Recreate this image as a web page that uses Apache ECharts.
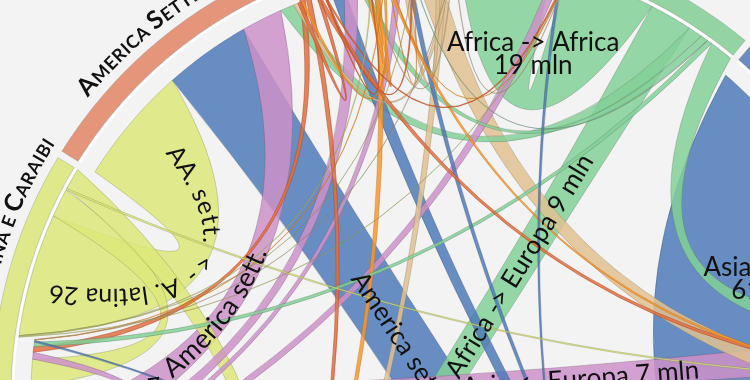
<!DOCTYPE html>
<html>
<head>
<meta charset="utf-8">
<title>Migrazioni internazionali</title>
<script src="https://cdn.jsdelivr.net/npm/echarts@6.0.0/dist/echarts.min.js"></script>
<style>
html,body{margin:0;padding:0;background:#f3f3f3;}
#chart{width:750px;height:380px;}
</style>
</head>
<body>
<div id="chart"></div>
<script>
// ---------------- DATA (milioni di migranti) ----------------
const regions = ['America settentrionale', 'Oceania', 'Ex URSS', 'Africa', 'Asia', 'Europa', 'America latina e Caraibi'];
const codes   = ['AS', 'OC', 'TN', 'AF', 'AI', 'EU', 'AL'];
// flows from each origin, destinations in the order of `codes`
const fromAmericaSett = [0.8, 0.2, 0.3, 0.3, 0.9, 1.0, 1.2];
const fromOceania     = [0.5, 1.0, 0.1, 0.1, 0.6, 1.2, 0.1];
const fromExUrss      = [1.0, 0.2, 1.0, 0.1, 5.0, 1.5, 0.1];
const fromAfrica      = [3.0, 1.5, 0.1, 19, 5.0, 9, 1.0];
const fromAsia        = [19, 3.0, 1.0, 0.6, 61, 18.5, 0.4];
const fromEuropa      = [9, 3.0, 1.5, 2.0, 7, 60, 1.5];
const fromAmLatina    = [26, 0.2, 0.05, 0.1, 0.4, 4.5, 6];
const flowRows = [fromAmericaSett, fromOceania, fromExUrss, fromAfrica, fromAsia, fromEuropa, fromAmLatina];

// ribbon annotations (text shown on the ribbons)
const ribbonLabelTexts = [
  {s: 'AL', t: 'AS', text: 'AA. sett. <- A. latina 26'},
  {s: 'AF', t: 'EU', text: 'Africa -> Europa 9 mln'},
  {s: 'EU', t: 'AS', text: 'Europa -> America sett.'},
  {s: 'AI', t: 'AS', text: 'America sett. <- Asia 19 mln'},
  {s: 'EU', t: 'AI', text: 'Asia <- Europa 7 mln'}
];
const selfLabelTexts = [
  {r: 'AF', text: 'Africa -> Africa\n19 mln'},
  {r: 'AI', text: 'Asia -> Asia\n61 mln'}
];

// ---------------- LAYOUT / STYLE ----------------
const CX = 452, CY = 395, RMAX = 500;
const START_DEG = -58;          // compass angle where the first region starts
const GAP = 1.5;                // gap between regions (value units)
const RS = 437, RT = 421;       // source end radius, target end radius (inset)
const R_IN = 441, R_OUT = 460;  // outer ring
const RB = 469;                 // ring label baseline
const CTRL = 0.46;
const inOrder = {
  EU: ['EU','AI','TN','AL','OC','AS','AF'],
  AI: ['AI','AF','EU','AS','OC','AL','TN']
};
const outOrder = {
  AS: ['AL','EU','AI','AS','AF','TN','OC'],
  OC: ['OC','EU','AI','AS','AF','TN','AL'],
  TN: ['AI','TN','EU','AS','OC','AF','AL'],
  AF: ['AF','EU','AS','OC','TN','AL','AI'],
  AI: ['AI','EU','OC','TN','AL','AS','AF'],
  EU: ['EU','AF','TN','OC','AL','AS','AI'],
  AL: ['AF','OC','TN','AS','AL','AI','EU']
};
const labelShiftDeg = {AS: 3};
const ringColors   = {AS:'#e5967a', OC:'#f4a64c', TN:'#e4c9a1', AF:'#94d4a2', AI:'#6a8bc3', EU:'#d3a0cf', AL:'#dfe98b'};
const ribbonColors = {AS:'rgba(222,112,66,0.85)', OC:'rgba(245,152,48,0.85)', TN:'rgba(224,193,145,0.85)',
  AF:'rgba(131,208,150,0.85)', AI:'rgba(78,122,185,0.85)', EU:'rgba(204,146,200,0.85)', AL:'rgba(220,231,122,0.85)'};
const ribbonStroke = {AS:'rgba(190,80,40,0.9)', OC:'rgba(200,110,20,0.6)', TN:'rgba(120,110,90,0.45)',
  AF:'rgba(90,110,95,0.45)', AI:'rgba(60,70,100,0.45)', EU:'rgba(110,80,110,0.45)', AL:'rgba(120,125,70,0.45)'};
const ribbonLabelStyle = [
  {size: 25, dir: 'ts', at: 0.54, off: 16},
  {size: 26, dir: 'ts', at: 0.66, off: 0},
  {size: 27, dir: 'st', at: 0.33, off: 0},
  {size: 26, dir: 'ts', at: 0.50, off: 0},
  {size: 26, dir: 'st', at: 0.66, off: -2}
];
const selfLabelPos = [ {r: 350, deg: 13.4}, {r: 339, deg: 70} ];
const FONT = 'Lato';

// ---------------- COMPUTE LAYOUT ----------------
const n = codes.length;
const idx = {}; codes.forEach((c, i) => idx[c] = i);
const srcPos = codes.map(() => []), tgtPos = codes.map(() => []);
const regStart = [], regEnd = [];
let pos = 0;
for (let r = 0; r < n; r++) {
  regStart[r] = pos;
  let ins;
  if (inOrder[codes[r]]) ins = inOrder[codes[r]].map(c => idx[c]).filter(s => flowRows[s][r] > 0);
  else ins = codes.map((c, s) => s).filter(s => flowRows[s][r] > 0).sort((a, b) => flowRows[b][r] - flowRows[a][r]);
  ins.forEach(s => { tgtPos[s][r] = pos; pos += flowRows[s][r]; });
  outOrder[codes[r]].forEach(tc => { const t = idx[tc]; if (flowRows[r][t] > 0) { srcPos[r][t] = pos; pos += flowRows[r][t]; } });
  regEnd[r] = pos;
  pos += GAP;
}
const TOTAL = pos;
const degPer = 360 / TOTAL;
function v2deg(v) { return START_DEG + v * degPer; }
function deg2v(d) { let v = (d - START_DEG) / degPer; return ((v % TOTAL) + TOTAL) % TOTAL; }

const ribbons = [];
for (let s = 0; s < n; s++) for (let t = 0; t < n; t++) {
  const v = flowRows[s][t];
  if (v > 0) ribbons.push({s, t, v, s0: srcPos[s][t], s1: srcPos[s][t] + v, t0: tgtPos[s][t], t1: tgtPos[s][t] + v});
}
ribbons.sort((a, b) => b.v - a.v);

// ---------------- GEOMETRY HELPERS ----------------
const mctx = document.createElement('canvas').getContext('2d');
function tw(str, size, weight) { mctx.font = (weight || 'normal') + ' ' + size + 'px ' + FONT; return mctx.measureText(str).width; }
function arcPts(api, r, v0, v1) {
  const steps = Math.max(2, Math.ceil(Math.abs(v1 - v0) * degPer / 0.4));
  const out = [];
  for (let i = 0; i <= steps; i++) out.push(api.coord([r, v0 + (v1 - v0) * i / steps]));
  return out;
}
function ctrl(api, va, vb) {
  let diff = vb - va;
  if (diff > TOTAL / 2) diff -= TOTAL;
  if (diff < -TOTAL / 2) diff += TOTAL;
  const mid = (((va + diff / 2) % TOTAL) + TOTAL) % TOTAL;
  const dd = Math.abs(diff) * degPer;
  const rc = CTRL * RS * (1 - dd / 180);
  return api.coord([Math.max(rc, 0), mid]);
}
function f(p) { return p[0].toFixed(2) + ' ' + p[1].toFixed(2); }
function ribbonPath(api, rb) {
  const sp = arcPts(api, RS, rb.s0, rb.s1);
  const tp = arcPts(api, RT, rb.t0, rb.t1);
  let d = 'M' + f(sp[0]);
  for (let i = 1; i < sp.length; i++) d += 'L' + f(sp[i]);
  d += 'Q' + f(ctrl(api, rb.s1, rb.t0)) + ' ' + f(tp[0]);
  for (let i = 1; i < tp.length; i++) d += 'L' + f(tp[i]);
  d += 'Q' + f(ctrl(api, rb.t1, rb.s0)) + ' ' + f(sp[0]) + 'Z';
  return d;
}
function quad(p0, c, p2, N) {
  const pts = [];
  for (let i = 0; i <= N; i++) {
    const t = i / N, a = (1 - t) * (1 - t), b = 2 * t * (1 - t), e = t * t;
    pts.push([a * p0[0] + b * c[0] + e * p2[0], a * p0[1] + b * c[1] + e * p2[1]]);
  }
  return pts;
}
function pointAt(pts, cum, s) {
  let i = 0;
  while (i < pts.length - 2 && cum[i + 1] < s) i++;
  const seg = cum[i + 1] - cum[i] || 1;
  const u = (s - cum[i]) / seg;
  const dx = pts[i + 1][0] - pts[i][0], dy = pts[i + 1][1] - pts[i][1];
  const L = Math.hypot(dx, dy) || 1;
  return [pts[i][0] + dx * u, pts[i][1] + dy * u, dx / L, dy / L];
}
function textAlong(pts, text, size, at, off) {
  const cum = [0];
  for (let i = 1; i < pts.length; i++) cum.push(cum[i - 1] + Math.hypot(pts[i][0] - pts[i - 1][0], pts[i][1] - pts[i - 1][1]));
  const chars = Array.from(text);
  const ws = chars.map(ch => tw(ch, size));
  const total = ws.reduce((a, b) => a + b, 0);
  let s = at * cum[cum.length - 1] - total / 2;
  return chars.map((ch, i) => {
    const sc = s + ws[i] / 2; s += ws[i];
    const p = pointAt(pts, cum, sc);
    return {type: 'text', x: p[0] + p[3] * off, y: p[1] - p[2] * off, rotation: -Math.atan2(p[3], p[2]),
      style: {text: ch, fontSize: size, fontFamily: FONT, fill: '#111', align: 'center', verticalAlign: 'middle'}};
  });
}
function smallCaps(name) {
  const out = [];
  name.split(' ').forEach((w, wi) => {
    if (wi > 0) out.push({ch: ' ', size: 17});
    Array.from(w).forEach((ch, ci) => {
      const big = ci === 0 && w.length > 1;
      out.push({ch: ch.toUpperCase(), size: big ? 25 : 18});
    });
  });
  return out;
}

// ---------------- RENDERERS ----------------
function renderRing(params, api) {
  const r = api.value(2);
  const outer = arcPts(api, R_OUT, regStart[r], regEnd[r]);
  const inner = arcPts(api, R_IN, regEnd[r], regStart[r]);
  let d = 'M' + f(outer[0]);
  outer.slice(1).forEach(p => d += 'L' + f(p));
  inner.forEach(p => d += 'L' + f(p));
  d += 'Z';
  const wl = arcPts(api, 439, regStart[r], regEnd[r]);
  let d2 = 'M' + f(wl[0]); wl.slice(1).forEach(p => d2 += 'L' + f(p));
  // label along the ring
  const parts = smallCaps(regions[r]);
  const ws = parts.map(p => tw(p.ch, p.size, 'bold') + 0.6);
  const total = ws.reduce((a, b) => a + b, 0);
  const midDeg = v2deg((regStart[r] + regEnd[r]) / 2) + (labelShiftDeg[codes[r]] || 0);
  let th = midDeg * Math.PI / 180 - total / 2 / RB;
  const texts = parts.map((p, i) => {
    const thc = th + ws[i] / 2 / RB; th += ws[i] / RB;
    const pt = api.coord([RB + p.size * 0.36, deg2v(thc * 180 / Math.PI)]);
    return {type: 'text', x: pt[0], y: pt[1], rotation: -thc,
      style: {text: p.ch, fontSize: p.size, fontWeight: 'bold', fontFamily: FONT, fill: '#111', align: 'center', verticalAlign: 'middle'}};
  });
  return {type: 'group', children: [
    {type: 'path', shape: {pathData: d}, style: {fill: ringColors[codes[r]], stroke: 'rgba(120,120,120,0.5)', lineWidth: 0.6}},
    {type: 'path', shape: {pathData: d2}, style: {fill: null, stroke: '#ffffff', lineWidth: 2.4}}
  ].concat(texts)};
}
function renderRibbon(params, api) {
  const rb = ribbons[api.value(2)];
  const c = codes[rb.s];
  return {type: 'path', shape: {pathData: ribbonPath(api, rb)},
    style: {fill: ribbonColors[c], stroke: ribbonStroke[c], lineWidth: 0.7}};
}
function renderLabel(params, api) {
  const k = api.value(2);
  if (k < ribbonLabelTexts.length) {
    const L = ribbonLabelTexts[k], st = ribbonLabelStyle[k];
    const s = idx[L.s], t = idx[L.t];
    const v = flowRows[s][t];
    const sm = srcPos[s][t] + v / 2, tm = tgtPos[s][t] + v / 2;
    const pS = api.coord([RS, sm]), pT = api.coord([RT, tm]);
    const c = ctrl(api, sm, tm);
    const pts = st.dir === 'st' ? quad(pS, c, pT, 300) : quad(pT, c, pS, 300);
    return {type: 'group', children: textAlong(pts, L.text, st.size, st.at, st.off)};
  }
  const j = k - ribbonLabelTexts.length;
  const SL = selfLabelTexts[j], P = selfLabelPos[j];
  const pt = api.coord([P.r, deg2v(P.deg)]);
  return {type: 'text', x: pt[0], y: pt[1],
    style: {text: SL.text, fontSize: 26, lineHeight: 23, fontFamily: FONT, fill: '#111', align: 'center', verticalAlign: 'middle'}};
}

// ---------------- CHART ----------------
const chart = echarts.init(document.getElementById('chart'), null, {renderer: 'canvas', width: 750, height: 380});
chart.setOption({
  backgroundColor: '#f3f3f3',
  animation: false,
  polar: {center: [CX, CY], radius: RMAX},
  angleAxis: {type: 'value', min: 0, max: TOTAL, startAngle: 90 - START_DEG, clockwise: true, show: false},
  radiusAxis: {type: 'value', min: 0, max: RMAX, show: false},
  series: [
    {type: 'custom', coordinateSystem: 'polar', silent: true, z: 1,
      data: codes.map((c, i) => [0, 0, i]), renderItem: renderRing},
    {type: 'custom', coordinateSystem: 'polar', silent: true, z: 2,
      data: ribbons.map((r, i) => [0, 0, i]), renderItem: renderRibbon},
    {type: 'custom', coordinateSystem: 'polar', silent: true, z: 3,
      data: ribbonLabelTexts.concat(selfLabelTexts).map((r, i) => [0, 0, i]), renderItem: renderLabel}
  ]
});
</script>
</body>
</html>
